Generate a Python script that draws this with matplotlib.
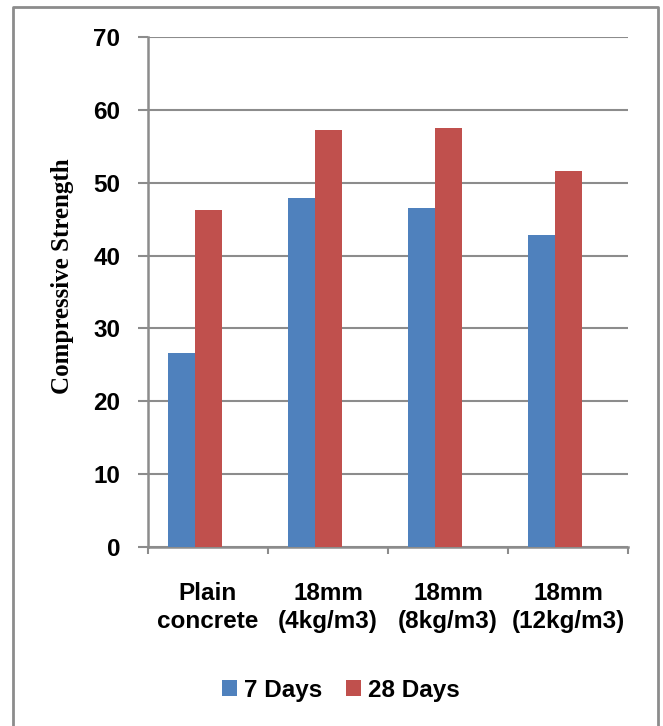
import matplotlib
matplotlib.use("Agg")
import matplotlib.pyplot as plt
import numpy as np
from matplotlib.lines import Line2D

categories = ["Plain\nconcrete", "18mm\n(4kg/m3)", "18mm\n(8kg/m3)", "18mm\n(12kg/m3)"]
series_names = ["7 Days", "28 Days"]
days7 = [26.6, 47.9, 46.5, 42.8]
days28 = [46.2, 57.3, 57.5, 51.6]
yticks = [0, 10, 20, 30, 40, 50, 60, 70]

blue = "#4F81BD"
red = "#C0504D"
gray = "#8C8C8C"
sans = ["Liberation Sans Narrow", "Liberation Sans", "DejaVu Sans"]
serif = ["Liberation Serif", "DejaVu Serif"]

W, H = 663, 726
fig = plt.figure(figsize=(W / 100, H / 100), dpi=100)
ax = fig.add_axes([148 / W, 1 - 547 / H, (628 - 148) / W, (547 - 37) / H])

x = np.arange(len(categories))
bw = 0.225
ax.bar(x - bw, days7, width=bw, color=blue, label=series_names[0], zorder=3)
ax.bar(x, days28, width=bw, color=red, label=series_names[1], zorder=3)

ax.set_xlim(-0.5, len(categories) - 0.5)
ax.set_ylim(0, 70)
ax.set_yticks(yticks)
ax.set_yticklabels([str(v) for v in yticks], fontfamily=sans, fontweight="bold", fontsize=17.5)
ax.set_xticks(x)
ax.set_xticklabels(categories, fontfamily=sans, fontweight="bold", fontsize=17.5, linespacing=1.3)
ax.set_xticks(np.arange(len(categories) + 1) - 0.5, minor=True)
ax.tick_params(axis="x", which="major", length=0, pad=25)
ax.tick_params(axis="x", which="minor", length=5, width=1.5, color=gray, direction="out")
ax.tick_params(axis="y", which="major", length=7, width=1.5, color=gray, pad=13)

ax.grid(axis="y", color=gray, linewidth=1.5, zorder=0)
ax.set_axisbelow(True)
for s in ["top", "right"]:
    ax.spines[s].set_visible(False)
for s in ["left", "bottom"]:
    ax.spines[s].set_color(gray)
    ax.spines[s].set_linewidth(1.8)

fig.text(63 / W, 1 - 276 / H, "Compressive Strength", rotation=90, ha="center", va="center",
         fontfamily=serif, fontweight="bold", fontsize=18)

leg = fig.legend(loc="center", bbox_to_anchor=(341 / W, 1 - 690 / H), ncol=2, frameon=False,
                 handlelength=0.6, handleheight=0.6, handletextpad=0.3, columnspacing=1.0,
                 prop={"family": sans, "weight": "bold", "size": 17.5})

# outer frame (left, top, right)
fx0, fx1, fy0 = 13 / W, 658 / W, 1 - 7 / H
fig.add_artist(Line2D([fx0, fx0, fx1, fx1], [0, fy0, fy0, 0], transform=fig.transFigure,
                      color=gray, linewidth=2))

fig.savefig("out.png", dpi=100)
